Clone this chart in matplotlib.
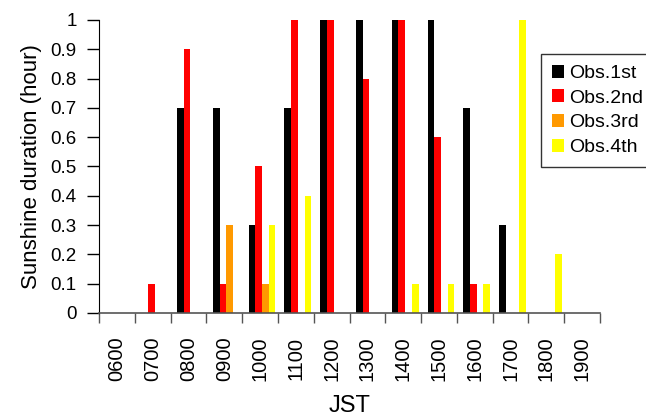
import numpy as np
import matplotlib
matplotlib.use('Agg')
import matplotlib.pyplot as plt

plt.rcParams['font.family'] = ['Liberation Sans', 'DejaVu Sans']

hours = ['0600', '0700', '0800', '0900', '1000', '1100', '1200',
         '1300', '1400', '1500', '1600', '1700', '1800', '1900']
obs1 = [0, 0, 0.7, 0.7, 0.3, 0.7, 1.0, 1.0, 1.0, 1.0, 0.7, 0.3, 0, 0]
obs2 = [0, 0.1, 0.9, 0.1, 0.5, 1.0, 1.0, 0.8, 1.0, 0.6, 0.1, 0, 0, 0]
obs3 = [0, 0, 0, 0.3, 0.1, 0, 0, 0, 0, 0, 0, 0, 0, 0]
obs4 = [0, 0, 0, 0, 0.3, 0.4, 0, 0, 0.1, 0.1, 0.1, 1.0, 0.2, 0]
names = ['Obs.1st', 'Obs.2nd', 'Obs.3rd', 'Obs.4th']
colors = ['#000000', '#ff0000', '#ff9900', '#ffff00']

fig = plt.figure(figsize=(6.46, 4.18), dpi=100)
ax = fig.add_axes([0.1533, 0.2512, 0.7756, 0.7010])

x = np.arange(len(hours))
w = 0.1875
for k, (vals, c, n) in enumerate(zip([obs1, obs2, obs3, obs4], colors, names)):
    ax.bar(x - 0.5 + 0.18 + k * w, vals, width=w, align='edge', color=c,
           label=n, linewidth=0)

ax.set_xlim(-0.5, len(hours) - 0.5)
ax.set_ylim(0, 1)

ax.set_xticks(np.arange(len(hours) + 1) - 0.5)
ax.set_xticklabels([])
ax.set_xticks(x, minor=True)
ax.set_xticklabels(hours, minor=True, rotation=90, fontsize=14.5)
ax.tick_params(axis='x', which='major', length=7, width=1, color='#555555')
ax.tick_params(axis='x', which='minor', length=0, pad=17)

ax.set_yticks(np.arange(0, 1.01, 0.1))
ax.set_yticklabels(['%g' % v for v in np.round(np.arange(0, 1.01, 0.1), 1)],
                   fontsize=13.5)
ax.tick_params(axis='y', length=9, width=1, pad=7)

ax.spines['top'].set_visible(False)
ax.spines['right'].set_visible(False)
ax.spines['bottom'].set_color('#555555')
ax.spines['bottom'].set_linewidth(1.2)

ax.set_ylabel('Sunshine duration (hour)', fontsize=16, labelpad=6)
ax.set_xlabel('JST', fontsize=17, labelpad=10)

leg = fig.legend(loc='upper left', bbox_to_anchor=(0.8375, 0.871),
                 fontsize=14, frameon=True, fancybox=False,
                 handlelength=0.65, handleheight=0.65, handletextpad=0.25,
                 labelspacing=0.38, borderpad=0.55, borderaxespad=0)
leg.get_frame().set_edgecolor('black')
leg.get_frame().set_linewidth(1)

fig.savefig('out.png', dpi=100)
